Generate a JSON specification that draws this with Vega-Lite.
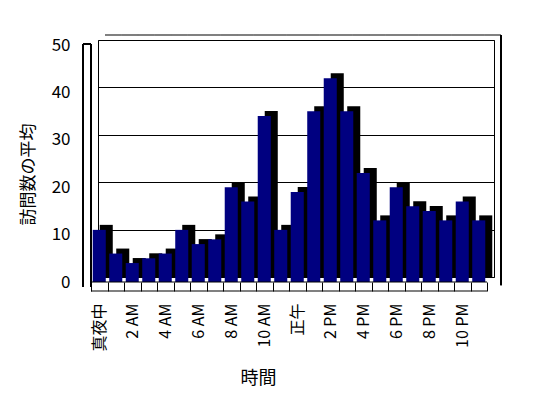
{
  "$schema": "https://vega.github.io/schema/vega-lite/v6.json",
  "width": 396,
  "height": 237,
  "autosize": {"type": "none"},
  "padding": {"left": 98, "top": 40, "right": 54, "bottom": 121},
  "background": "white",
  "config": {
    "view": {"stroke": "black", "strokeWidth": 1},
    "font": "Noto Sans CJK JP"
  },
  "data": {
    "values": [
      {"hour": "真夜中", "visits": 11},
      {"hour": "1 AM", "visits": 6},
      {"hour": "2 AM", "visits": 4},
      {"hour": "3 AM", "visits": 5},
      {"hour": "4 AM", "visits": 6},
      {"hour": "5 AM", "visits": 11},
      {"hour": "6 AM", "visits": 8},
      {"hour": "7 AM", "visits": 9},
      {"hour": "8 AM", "visits": 20},
      {"hour": "9 AM", "visits": 17},
      {"hour": "10 AM", "visits": 35},
      {"hour": "11 AM", "visits": 11},
      {"hour": "正午", "visits": 19},
      {"hour": "1 PM", "visits": 36},
      {"hour": "2 PM", "visits": 43},
      {"hour": "3 PM", "visits": 36},
      {"hour": "4 PM", "visits": 23},
      {"hour": "5 PM", "visits": 13},
      {"hour": "6 PM", "visits": 20},
      {"hour": "7 PM", "visits": 16},
      {"hour": "8 PM", "visits": 15},
      {"hour": "9 PM", "visits": 13},
      {"hour": "10 PM", "visits": 17},
      {"hour": "11 PM", "visits": 13}
    ]
  },
  "layer": [
    {
      "mark": {"type": "bar", "color": "black", "width": {"band": 0.79}},
      "encoding": {
        "x": {
          "field": "hour",
          "type": "ordinal",
          "sort": null,
          "scale": {"paddingInner": 0, "paddingOuter": 0},
          "axis": {
            "title": "時間",
            "titleFontSize": 18,
            "titleFontWeight": "normal",
            "titleColor": "black",
            "titleX": 160,
            "titleY": 96,
            "titleAlign": "center",
            "titleBaseline": "middle",
            "offset": 5,
            "domain": false,
            "ticks": true,
            "tickSize": 9,
            "tickColor": "black",
            "bandPosition": 1,
            "tickExtra": true,
            "tickOffset": -7,
            "labelOffset": 0,
            "labelAngle": -90,
            "labelAlign": "right",
            "labelBaseline": "middle",
            "labelPadding": 12,
            "labelFontSize": 16,
            "labelColor": "black",
            "labelOverlap": false,
            "labelBound": false,
            "grid": false,
            "labelExpr": "indexof(['1 AM','3 AM','5 AM','7 AM','9 AM','11 AM','1 PM','3 PM','5 PM','7 PM','9 PM','11 PM'], datum.value) >= 0 ? '' : datum.label"
          }
        },
        "y": {
          "field": "visits",
          "type": "quantitative",
          "scale": {"domain": [0, 50], "nice": false},
          "axis": {
            "title": "訪問数の平均",
            "titleFontSize": 17,
            "titleFontWeight": "normal",
            "titleColor": "black",
            "titleAngle": -90,
            "titleX": -63,
            "titleY": 134,
            "titleAlign": "center",
            "titleBaseline": "middle",
            "offset": 7,
            "domain": false,
            "ticks": false,
            "labelPadding": 21,
            "labelOffset": 5,
            "labelFontSize": 17,
            "labelColor": "black",
            "values": [0, 10, 20, 30, 40, 50],
            "grid": true,
            "gridColor": "black",
            "gridOpacity": 1
          }
        }
      }
    },
    {
      "mark": {"type": "bar", "color": "#000080", "width": {"band": 0.79}, "xOffset": -7, "yOffset": 5},
      "encoding": {
        "x": {"field": "hour", "type": "ordinal", "sort": null},
        "y": {"field": "visits", "type": "quantitative"}
      }
    },
    {
      "mark": {"type": "tick", "color": "black", "size": 16.6, "thickness": 1, "xOffset": -7, "yOffset": 5, "opacity": 1},
      "encoding": {
        "x": {"field": "hour", "type": "ordinal", "sort": null},
        "y": {"datum": 0}
      }
    },
    {
      "mark": {"type": "tick", "color": "black", "size": 16.6, "thickness": 1, "xOffset": -7, "yOffset": 14, "opacity": 1},
      "encoding": {
        "x": {"field": "hour", "type": "ordinal", "sort": null},
        "y": {"datum": 0}
      }
    },
    {
      "mark": {"type": "tick", "color": "black", "size": 16.6, "thickness": 1, "xOffset": 7, "yOffset": -5, "opacity": 1},
      "encoding": {
        "x": {"field": "hour", "type": "ordinal", "sort": null},
        "y": {"datum": 50}
      }
    },
    {
      "mark": {"type": "tick", "color": "black", "size": 8, "thickness": 1, "xOffset": -19.25, "yOffset": 4, "opacity": 1},
      "encoding": {
        "x": {"datum": "真夜中", "type": "ordinal"},
        "y": {"datum": 50}
      }
    },
    {
      "mark": {"type": "rule", "color": "black", "strokeWidth": 1, "xOffset": -7, "yOffset": 4},
      "encoding": {
        "x": {"datum": "真夜中", "type": "ordinal", "bandPosition": 0},
        "y": {"datum": 50},
        "y2": {"datum": -2}
      }
    },
    {
      "mark": {"type": "rule", "color": "black", "strokeWidth": 1, "xOffset": -15, "yOffset": 4},
      "encoding": {
        "x": {"datum": "真夜中", "type": "ordinal", "bandPosition": 0},
        "y": {"datum": 50},
        "y2": {"datum": -2}
      }
    },
    {
      "mark": {"type": "rule", "color": "black", "strokeWidth": 1, "xOffset": 7, "yOffset": -5},
      "encoding": {
        "x": {"datum": "11 PM", "type": "ordinal", "bandPosition": 1},
        "y": {"datum": 50},
        "y2": {"datum": -1.7}
      }
    }
  ]
}
